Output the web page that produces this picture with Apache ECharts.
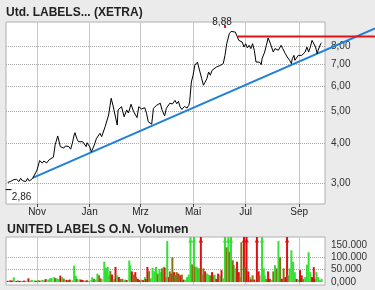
<!DOCTYPE html>
<html><head><meta charset="utf-8">
<script src="https://cdn.jsdelivr.net/npm/echarts@6/dist/echarts.min.js"></script>
<style>html,body{margin:0;padding:0;background:#ebebeb}#c{width:375px;height:290px}</style>
</head><body><div id="c"></div>
<script>
// ---- data ----
const priceTitle = 'Utd. LABELS... (XETRA)';
const volumeTitle = 'UNITED LABELS O.N. Volumen';
// x axis: days counted from 1 Nov
const monthDays = [0, 61, 120, 181, 242, 304];
const monthLabels = ['Nov', 'Jan', 'Mrz', 'Mai', 'Jul', 'Sep'];
const priceTicks = [3, 4, 5, 6, 7, 8];
const priceDays = [-34,-31,-27,-26,-24,-21,-19,-17,-15,-13,-11,-9,-7,-5,-3,0,3,6,8,11,14,16,19,21,24,26,27,29,31,33,35,37,39,41,43,44,46,48,50,53,55,57,58,61,63,66,69,73,75,79,83,86,88,90,93,94,98,101,104,106,109,112,116,118,121,125,127,129,133,135,139,143,145,148,150,154,157,160,162,164,166,168,171,174,176,177,179,181,183,186,188,189,191,193,194,197,199,201,203,205,208,210,213,216,218,220,222,223,225,227,230,232,234,235,238,240,242,244,246,248,250,252,254,256,258,260,261,264,266,268,270,272,274,276,278,280,283,285,287,288,291,293,295,296,298,299,301,303,305,307,309,311,313,315,317,319,321,323,325,326,329,330];
const priceCloses = [3.01,3.03,3.07,3.03,3.08,3.03,3.10,3.05,3.07,3.03,3.10,3.04,3.07,3.10,3.14,3.29,3.52,3.46,3.51,3.46,3.54,3.51,3.61,3.94,4.20,3.99,3.89,3.94,3.85,3.91,3.87,3.89,3.82,3.99,4.23,4.30,4.13,4.03,3.99,4.03,3.99,3.89,4.00,3.89,3.75,3.91,4.13,4.28,4.18,4.49,4.88,5.50,5.24,5.28,4.54,5.06,5.18,4.82,5.06,4.95,5.27,5.00,4.79,5.18,5.10,5.14,4.94,4.65,4.57,5.12,5.24,5.31,5.06,4.85,5.12,5.31,5.28,5.42,5.29,5.38,5.17,5.08,5.19,5.13,5.23,5.36,6.18,6.49,6.97,7.13,7.05,6.64,6.33,6.04,5.97,6.33,6.64,6.49,6.72,6.64,6.88,6.80,6.97,7.05,7.48,8.13,8.23,8.74,8.88,8.86,8.84,8.74,8.33,8.35,8.23,7.94,8.13,7.89,8.04,7.85,8.13,7.76,7.13,7.05,7.13,7.00,7.30,7.66,8.04,8.47,8.23,7.94,7.66,7.85,7.94,7.76,8.04,7.85,7.94,7.57,7.34,7.22,7.05,7.30,7.48,7.22,7.13,7.48,7.57,7.48,7.57,7.66,7.94,7.66,7.94,8.33,8.33,7.94,7.57,7.76,8.13,8.19];
const highDay = 225, highValue = 8.88;
const lowDay = -33, lowValue = 2.86;
const trendDays = [-5, 392];
const trendValues = [3.11, 9.08];
const resistanceDays = [233, 392];
const resistanceValues = [8.56, 8.56];
// volume (thousands of shares)
const volTicks = [0, 50, 100, 150];
const volTickLabels = ['0,000', '50.000', '100.000', '150.000'];
const volDays = [-34,-31,-29,-27,-24,-22,-20,-17,-15,-13,-10,-8,-6,-3,-1,1,3,6,8,10,13,15,17,20,21,23,25,27,29,31,34,36,38,41,43,45,46,49,51,53,56,58,60,63,64,66,68,70,72,74,75,78,80,82,83,85,87,89,91,93,95,97,99,101,102,104,107,108,110,112,114,115,117,119,121,123,125,126,128,130,132,134,136,138,140,142,143,145,147,148,150,151,153,154,156,157,159,160,162,164,165,167,168,170,172,174,176,178,180,182,183,185,187,188,190,191,193,195,197,199,201,203,205,206,208,210,212,214,216,218,220,222,223,225,227,228,230,232,234,235,237,240,241,243,245,247,248,250,252,255,257,258,261,263,264,266,268,270,272,274,276,278,280,282,284,286,288,290,291,293,295,297,299,301,303,305,307,309,311,313,315,317,319,321,322,324,326,328,330];
const volK = [5,7,6,19,5,6,5,4,6,5,15,6,8,7,5,8,6,9,7,12,10,15,17,20,16,15,12,26,20,14,9,8,10,7,66,26,13,11,10,8,6,7,5,8,20,13,10,34,27,14,12,82,57,61,27,44,30,12,61,27,20,13,13,7,10,8,87,67,43,30,40,20,13,8,10,8,20,12,61,44,15,57,44,61,34,52,40,55,62,58,20,165,20,43,34,100,40,28,40,34,27,27,30,10,8,20,30,200,71,200,62,62,55,55,200,30,55,43,34,30,27,40,27,30,13,34,27,48,15,200,140,200,122,200,88,68,55,82,40,20,160,200,60,200,43,20,10,27,10,200,43,27,200,55,27,13,43,13,8,43,68,55,165,100,13,55,20,200,27,55,128,82,40,13,10,48,27,13,20,70,120,40,20,60,13,40,20,8,13];
const volTone = ('rrrgrororg'+'rgggrgrggr'+'ggggoggrgo'+'rorgggogrr'+'orgggoggor'+'gggggorgrg'+'rooggrggro'+'rorrgrgrro'+'ggggoggogr'+'ogrororoor'+'ororggggog'+'ogogroorgg'+'orogrrgrgg'+'ogogoogrro'+'ororrgrorr'+'rogggorrgo'+'gogororrog'+'gggrgrrogg'+'ggrrrgggg').split('');

// ---- chart ----
const FONT = 'Liberation Sans';
const toneColor = {g: '#33e033', r: '#dd1111', o: '#857515'};
const volMin = -11.8, volMax = 181.3;
const X_MIN = -36, X_MAX = 334;           // plot area
const X_MAX_WIDE = 392;                   // same scale extended to the right edge of the canvas
const fmtPrice = v => v.toFixed(2).replace('.', ',');
const chart = echarts.init(document.getElementById('c'), null, {renderer: 'canvas'});

const priceData = priceDays.map((d, i) => [d, priceCloses[i]]);
const volData = volDays.map((d, i) => ({value: [d, volK[i]], itemStyle: {color: toneColor[volTone[i]]}}));
const arrowData = volDays.map((d, i) => ({d, v: volK[i], c: toneColor[volTone[i]]}))
  .filter(o => o.v > volMax)
  .map(o => ({value: [o.d, 167], itemStyle: {color: o.c}}));

const labelStyle = {fontFamily: FONT, fontSize: 10, color: '#333'};
const hiddenAxis = {axisLine: {show: false}, axisTick: {show: false}, axisLabel: {show: false}, splitLine: {show: false}};

chart.setOption({
  backgroundColor: '#ebebeb',
  animation: false,
  title: [
    {text: priceTitle, left: 6, top: 7, padding: 0, textStyle: {fontFamily: FONT, fontSize: 12, fontWeight: 'bold', color: '#222'}},
    {text: volumeTitle, left: 7, top: 224, padding: 0, textStyle: {fontFamily: FONT, fontSize: 12.3, fontWeight: 'bold', color: '#222'}}
  ],
  grid: [
    {left: 6, top: 22, width: 319, height: 182, show: true, backgroundColor: '#fff', borderColor: '#b0b0b0', borderWidth: 1},
    {left: 6, top: 237, width: 319, height: 48, show: true, backgroundColor: '#fff', borderColor: '#b0b0b0', borderWidth: 1},
    {left: 6, top: 22, width: 369, height: 182, show: false}
  ],
  xAxis: [
    {type: 'value', gridIndex: 0, min: X_MIN, max: X_MAX, axisLine: {show: false},
     axisTick: {show: true, customValues: monthDays, length: 3, lineStyle: {color: '#444'}},
     axisLabel: {customValues: monthDays, formatter: v => monthLabels[monthDays.indexOf(v)], margin: 3, ...labelStyle, color: '#222'},
     splitLine: {show: true, lineStyle: {color: '#c8c8c8', width: 1, type: 'solid'}}},
    {type: 'value', gridIndex: 1, min: X_MIN, max: X_MAX, axisLine: {show: false},
     axisTick: {show: false, customValues: monthDays}, axisLabel: {show: false},
     splitLine: {show: true, lineStyle: {color: '#c8c8c8', width: 1, type: 'solid'}}},
    {type: 'value', gridIndex: 2, min: X_MIN, max: X_MAX_WIDE, ...hiddenAxis}
  ],
  yAxis: [
    {type: 'log', gridIndex: 0, position: 'right', min: 2.58, max: 9.5, axisLine: {show: false},
     axisTick: {show: false, customValues: priceTicks},
     axisLabel: {customValues: priceTicks, formatter: v => fmtPrice(v), margin: 6, ...labelStyle},
     splitLine: {show: true, lineStyle: {color: '#a8a8a8', width: 1, type: 'dotted'}}},
    {type: 'value', gridIndex: 1, position: 'right', min: volMin, max: volMax, axisLine: {show: false},
     axisTick: {show: false, customValues: [50, 100]},
     axisLabel: {customValues: volTicks, formatter: v => volTickLabels[volTicks.indexOf(v)], margin: 6, ...labelStyle},
     splitLine: {show: true, lineStyle: {color: '#a8a8a8', width: 1, type: 'dotted'}}},
    {type: 'log', gridIndex: 2, min: 2.58, max: 9.5, ...hiddenAxis}
  ],
  series: [
    {type: 'line', xAxisIndex: 2, yAxisIndex: 2, data: trendDays.map((d, i) => [d, trendValues[i]]), symbol: 'none', silent: true, z: 3,
     lineStyle: {color: '#2080d8', width: 2}},
    {type: 'line', xAxisIndex: 2, yAxisIndex: 2, data: resistanceDays.map((d, i) => [d, resistanceValues[i]]), symbol: 'none', silent: true, z: 3,
     lineStyle: {color: '#e01414', width: 2}},
    {type: 'line', xAxisIndex: 0, yAxisIndex: 0, data: priceData, symbol: 'none', silent: true, z: 4,
     lineStyle: {color: '#000', width: 1},
     markPoint: {silent: true, animation: false, data: [
       {coord: [highDay, highValue], symbol: 'circle', symbolSize: 1, itemStyle: {color: 'rgba(0,0,0,0)'},
        label: {show: true, position: 'inside', offset: [-9, -9.5], formatter: fmtPrice(highValue), ...labelStyle, color: '#222'}},
       {coord: [highDay, highValue], symbol: 'rect', symbolSize: [2, 3], symbolOffset: [-6, -5], itemStyle: {color: '#e01414'}, label: {show: false}},
       {coord: [lowDay, lowValue], symbol: 'rect', symbolSize: [6, 1], itemStyle: {color: '#000'},
        label: {show: true, position: 'inside', offset: [13, 8], formatter: fmtPrice(lowValue), ...labelStyle, color: '#222'}}
     ]}},
    {type: 'bar', xAxisIndex: 1, yAxisIndex: 1, data: volData, barWidth: 2, silent: true},
    {type: 'scatter', xAxisIndex: 1, yAxisIndex: 1, data: arrowData, symbol: 'triangle', symbolSize: [5, 4], silent: true, z: 5}
  ]
});
</script></body></html>
